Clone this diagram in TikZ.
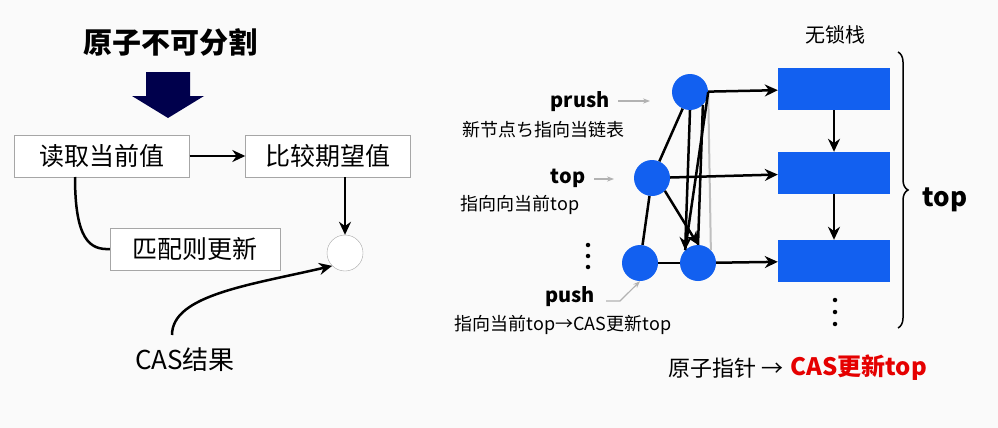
\documentclass[tikz,border=0pt]{standalone}
\usepackage{fontspec}
\setmainfont{Noto Sans CJK SC}
\usetikzlibrary{arrows.meta,shapes.arrows,decorations.pathreplacing}
\definecolor{bl}{RGB}{18,96,240}
\begin{document}
\begin{tikzpicture}[x=1pt,y=-1pt,
 box/.style={draw=gray!70,fill=white,font=\fontsize{25}{28}\selectfont,minimum height=42pt,inner xsep=6pt},
 ball/.style={circle,fill=bl,minimum size=36pt,inner sep=0},
 rect/.style={fill=bl,minimum width=112pt,minimum height=42pt,inner sep=0},
 arr/.style={-{Stealth[length=13pt,width=12pt]},line width=2.5pt},
 ln/.style={line width=2.5pt},
 garr/.style={-{Stealth[length=7pt]},gray!60,line width=1.2pt},
 lab/.style={font=\fontsize{18}{21}\selectfont},
 blab/.style={font=\bfseries\fontsize{20}{24}\selectfont},
 dot/.style={circle,fill=black,inner sep=0,minimum size=4.5pt}]
\fill[gray!4] (0,0) rectangle (998,428);
\useasboundingbox (0,0) rectangle (998,428);
% left
\node[font=\bfseries\fontsize{29}{32}\selectfont] (title) at (170,42) {原子不可分割};
\fill[blue!30!black] (146,72) -- (190,72) -- (190,96) -- (204,96) -- (168,118) -- (132,96) -- (146,96) -- cycle;
\node[box,minimum width=175pt] (b1) at (102,156) {读取当前值};
\node[box,minimum width=165pt] (b2) at (328,156) {比较期望值};
\node[box,minimum width=170pt] (b3) at (195,249) {匹配则更新};
\node[circle,draw=gray!70,fill=white,minimum size=36pt,inner sep=0] (c) at (345,253) {};
\draw[arr] (b1) -- (b2);
\draw[arr] (b2.south -| c) -- (c);
\draw[ln] (75,177) .. controls (75,240) and (90,250) .. (b3.west);
\node[font=\fontsize{26}{30}\selectfont] (cas) at (185,360) {CAS结果};
\draw[arr] (172,335) .. controls (172,295) and (250,285) .. (c.south west);
% right
\node[font=\fontsize{20}{24}\selectfont] (wl) at (835,35) {无锁栈};
\node[rect] (r1) at (834,89) {};
\node[rect] (r2) at (834,173) {};
\node[rect] (r3) at (834,261) {};
\draw[arr] (r1) -- (r2);
\draw[arr] (r2) -- (r3);
\node[dot] (d1) at (835,300) {};
\node[dot] (d2) at (835,312) {};
\node[dot] (d3) at (835,324) {};
\draw[line width=1.5pt,decorate,decoration={brace,amplitude=10pt}] (898,52) -- (898,328);
\node[font=\bfseries\fontsize{26}{30}\selectfont] (tp) at (945,200) {top};
\node[ball] (A) at (690,92) {};
\node[ball] (B) at (652,178) {};
\node[ball] (C) at (640,263) {};
\node[ball] (D) at (698,263) {};
\draw[gray!50,line width=2pt] (A.east) -- (D.north east);
\draw[ln] (A) -- (B);
\draw[ln] (B) -- (C);
\draw[ln] (C) -- (D);
\draw[ln] (A.south east) -- (D.north);
\draw[ln] (A.east) -- (D.north west);
\draw[arr] (A.south) -- (D.north west);
\draw[arr] (B.south east) -- (D.north);
\draw[arr] (A) -- (r1);
\draw[arr] (B) -- (r2);
\draw[arr] (D) -- (r3);
\node[blab] (l1) at (580,102) {prush};
\draw[garr] (618,101) -- (650,101);
\node[lab] (t1) at (543,130) {新节点ち指向当链表};
\node[blab] (l2) at (568,178) {top};
\draw[garr] (594,179) -- (614,179);
\node[lab] (t2) at (520,205) {指向向当前top};
\node[dot] (e1) at (588,245) {};
\node[dot] (e2) at (588,256) {};
\node[dot] (e3) at (588,267) {};
\node[blab] (l3) at (570,297) {push};
\draw[garr] (606,301) -- (620,301) -- (C.south);
\node[lab] (t3) at (563,325) {指向当前top→CAS更新top};
\node[anchor=east,font=\fontsize{22}{25}\selectfont] (ap) at (787,368) {原子指针 →};
\node[anchor=west,text=red!90!black,font=\bfseries\fontsize{24}{27}\selectfont] (ct) at (787,368) {CAS更新top};
\end{tikzpicture}
\end{document}
